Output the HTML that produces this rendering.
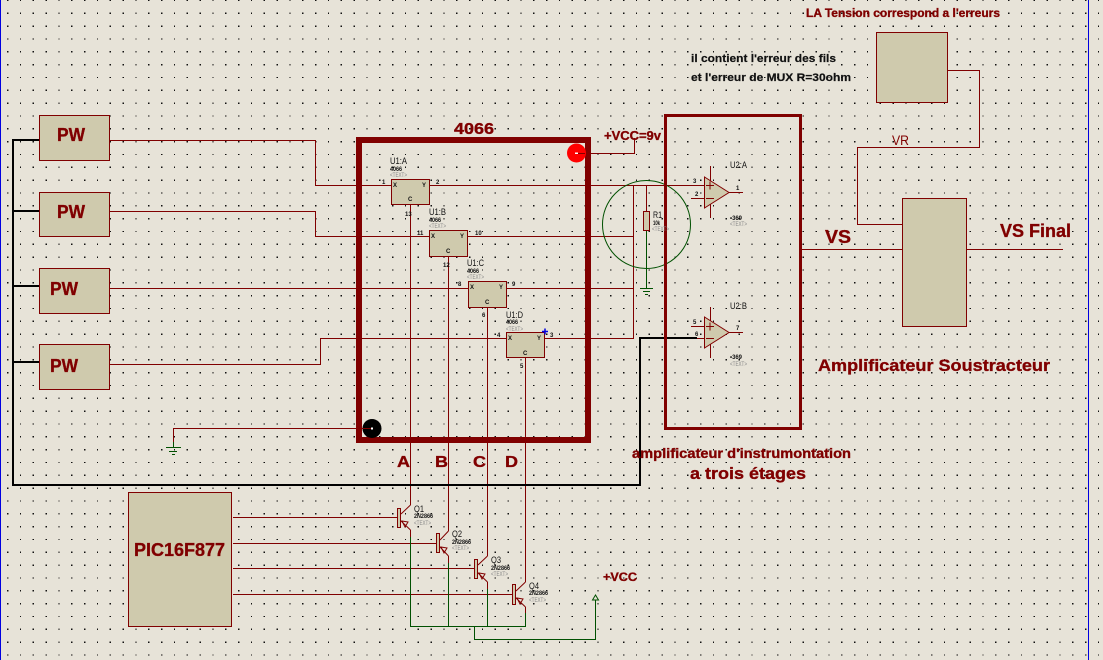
<!DOCTYPE html>
<html><head><meta charset="utf-8"><style>
html,body{margin:0;padding:0;background:#e7e3d8;width:1103px;height:660px;overflow:hidden}
svg{display:block}
text{font-family:"Liberation Sans",sans-serif}
.b{font-weight:bold;fill:#800000;stroke:#800000;stroke-width:.35}
.k{font-weight:bold;fill:#111;stroke:#111;stroke-width:.2}
.s{font-size:9.5px;fill:#111}
.t{font-size:6px;font-weight:bold;fill:#111}
.g{font-size:6px;fill:#888}
.p{font-size:6px;font-weight:bold;fill:#111}
</style></head><body>
<svg width="1103" height="660" viewBox="0 0 1103 660" xmlns="http://www.w3.org/2000/svg">
<rect width="1103" height="660" fill="#e7e3d8"/>
<path shape-rendering="crispEdges" stroke="#111" stroke-width="1.3" stroke-dasharray="1.3 11.533" fill="none" d="M7 .5H1103M7 13.3H1103M7 26.2H1103M7 39H1103M7 51.8H1103M7 64.7H1103M7 77.5H1103M7 90.3H1103M7 103.2H1103M7 116H1103M7 128.8H1103M7 141.7H1103M7 154.5H1103M7 167.3H1103M7 180.2H1103M7 193H1103M7 205.8H1103M7 218.7H1103M7 231.5H1103M7 244.3H1103M7 257.2H1103M7 270H1103M7 282.8H1103M7 295.7H1103M7 308.5H1103M7 321.3H1103M7 334.2H1103M7 347H1103M7 359.8H1103M7 372.7H1103M7 385.5H1103M7 398.3H1103M7 411.2H1103M7 424H1103M7 436.8H1103M7 449.7H1103M7 462.5H1103M7 475.3H1103M7 488.2H1103M7 501H1103M7 513.8H1103M7 526.7H1103M7 539.5H1103M7 552.3H1103M7 565.2H1103M7 578H1103M7 590.8H1103M7 603.7H1103M7 616.5H1103M7 629.3H1103M7 642.2H1103M7 655H1103"/>
<g shape-rendering="crispEdges">
<rect x="0" y="0" width="1" height="660" fill="#0000e0"/>
<rect x="1088" y="0" width="1" height="660" fill="#0000e0"/>
</g>

<!-- red wires -->
<g fill="none" stroke="#800000" stroke-width="1" shape-rendering="crispEdges">
<path d="M110 140.5H315.5V185.5H704"/>
<path d="M110 211.5H315.5V236.5H634"/>
<path d="M110 288.5H634"/>
<path d="M110 364.5H320.5V338.5H634"/>
<path d="M633.5 185V339"/>
<path d="M576 153.5H634.5V138"/>
<path d="M646.5 185V211"/>
<path d="M173.5 442V428.5H372"/>
<path d="M410.5 204V505M448.5 256V531M487.5 307V556M525.5 358V582"/>
<path d="M410.5 530V537M448.5 556V563M487.5 582V589M525.5 607V613"/>
<path d="M233 517.5H397M233 543.5H436M233 568.5H474M233 594.5H512"/>
<path d="M691 198.5H704M729 192.5H743M710.5 166V218"/>
<path d="M691 326.5H704M691 338.5H704M729 332.5H743M710.5 307V358"/>
<path d="M802 249.5H902M966 249.5H1063"/>
<path d="M948 70.5H979.5V147.5H857.5V224.5H902"/>
</g>
<g fill="none" stroke="#800000" stroke-width="1">
<path d="M401 514L410.5 505M401 521L410.5 530"/>
<path d="M440 540L448.5 531M440 547L448.5 556"/>
<path d="M478 565L487.5 556M478 573L487.5 582"/>
<path d="M516 591L525.5 582M516 598L525.5 607"/>
<path d="M402 521l6 1-3 5zM441 547l6 1-3 5zM479 573l6 1-3 5zM517 598l6 1-3 5z"/>
</g>
<!-- green wires -->
<g fill="none" stroke="#005000" stroke-width="1" shape-rendering="crispEdges">
<path d="M410.5 537V626.5H525.5V613"/>
<path d="M448.5 563V626M487.5 589V626"/>
<path d="M474.5 626V639.5H595.5V600"/>
<path d="M646.5 231V288M640 288.5H653M643 291.5H650M645 294.5H648"/>
<path d="M173.5 442V447M166 447.5H181M169 451.5H177M172 454.5H175"/>
</g>
<path d="M595.5 595L592.5 600H598.5Z" fill="none" stroke="#005000"/>
<circle cx="646.5" cy="224.5" r="44" fill="none" stroke="#005000" stroke-width="1"/>

<!-- black wires -->
<path d="M39 140H13V485H640V338H697M13 211H39M13 286H39M13 362H39" fill="none" stroke="#000" stroke-width="2" shape-rendering="crispEdges"/>

<!-- frames -->
<g fill="none" stroke="#800000" shape-rendering="crispEdges">
<rect x="359" y="140" width="229" height="300" stroke-width="6"/>
<rect x="665.5" y="115.5" width="135" height="313" stroke-width="3"/>
</g>

<!-- boxes -->
<g fill="#cfcaad" stroke="#800000" stroke-width="1" shape-rendering="crispEdges">
<rect x="39.5" y="115.5" width="70" height="45"/>
<rect x="39.5" y="192.5" width="70" height="44"/>
<rect x="39.5" y="268.5" width="70" height="45"/>
<rect x="39.5" y="344.5" width="70" height="45"/>
<rect x="128.5" y="492.5" width="103" height="134"/>
<rect x="876.5" y="32.5" width="71" height="70"/>
<rect x="902.5" y="198.5" width="64" height="128"/>
<rect x="391.5" y="179.5" width="38" height="25"/>
<rect x="429.5" y="230.5" width="38" height="26"/>
<rect x="468.5" y="281.5" width="38" height="26"/>
<rect x="506.5" y="332.5" width="38" height="25"/>
<rect x="643.5" y="211.5" width="6" height="19"/>
<rect x="397.5" y="508.5" width="3" height="19"/>
<rect x="436.5" y="533.5" width="3" height="19"/>
<rect x="474.5" y="559.5" width="3" height="19"/>
<rect x="512.5" y="584.5" width="3" height="20"/>
</g>
<g fill="#cfcaad" stroke="#800000" stroke-width="1">
<path d="M704.5 177L729 192.5 704.5 208Z"/>
<path d="M704.5 317L729 332.5 704.5 348Z"/>
</g>
<path d="M706 185.5h8M710 181.5v8M706 198.5h8M706 326.5h8M710 322.5v8M706 338.5h8" stroke="#800000" stroke-width="1" fill="none" shape-rendering="crispEdges"/>

<!-- terminals -->
<circle cx="576.5" cy="153" r="9.5" fill="#ff0000"/>
<path d="M576 153.5H585" stroke="#800000"/>
<rect x="575" y="152.5" width="3" height="1.5" fill="#fff"/>
<circle cx="372" cy="428.5" r="9.5" fill="#000"/>
<path d="M362 428.5H372" stroke="#800000"/>
<rect x="371" y="427.5" width="2" height="2" fill="#fff"/>
<path d="M545 328.5v6M542 331.5h6" stroke="#0000e0" stroke-width="1.5"/>

<!-- labels -->
<text class="b" x="454" y="134" font-size="16" textLength="40" lengthAdjust="spacingAndGlyphs">4066</text>
<text class="b" x="57" y="141" font-size="18" textLength="28" lengthAdjust="spacingAndGlyphs">PW</text>
<text class="b" x="57" y="218" font-size="18" textLength="28" lengthAdjust="spacingAndGlyphs">PW</text>
<text class="b" x="50" y="295" font-size="18" textLength="28" lengthAdjust="spacingAndGlyphs">PW</text>
<text class="b" x="50" y="372" font-size="18" textLength="28" lengthAdjust="spacingAndGlyphs">PW</text>
<text class="b" x="134" y="556" font-size="18" textLength="91" lengthAdjust="spacingAndGlyphs">PIC16F877</text>
<text class="b" x="604" y="140" font-size="13" textLength="57" lengthAdjust="spacingAndGlyphs">+VCC=9v</text>
<text class="k" x="691" y="62" font-size="11" textLength="145" lengthAdjust="spacingAndGlyphs">il contient l'erreur des fils</text>
<text class="k" x="691" y="81" font-size="11" textLength="160" lengthAdjust="spacingAndGlyphs">et l'erreur de MUX R=30ohm</text>
<text class="b" x="806" y="17" font-size="12" textLength="194" lengthAdjust="spacingAndGlyphs">LA Tension correspond a l'erreurs</text>
<text x="892" y="145" font-size="14" fill="#800000" textLength="17" lengthAdjust="spacingAndGlyphs">VR</text>
<text class="b" x="825" y="243" font-size="18" textLength="26" lengthAdjust="spacingAndGlyphs">VS</text>
<text class="b" x="1000" y="237" font-size="18" textLength="71" lengthAdjust="spacingAndGlyphs">VS Final</text>
<text class="b" x="818" y="371" font-size="17" textLength="232" lengthAdjust="spacingAndGlyphs">Amplificateur Soustracteur</text>
<text class="b" x="632" y="458" font-size="14" textLength="219" lengthAdjust="spacingAndGlyphs">amplificateur d'instrumontation</text>
<text class="b" x="690" y="479" font-size="17" textLength="116" lengthAdjust="spacingAndGlyphs">a trois étages</text>
<text class="b" x="397" y="467" font-size="16" textLength="13" lengthAdjust="spacingAndGlyphs">A</text>
<text class="b" x="435" y="467" font-size="16" textLength="13" lengthAdjust="spacingAndGlyphs">B</text>
<text class="b" x="473" y="467" font-size="16" textLength="13" lengthAdjust="spacingAndGlyphs">C</text>
<text class="b" x="505" y="467" font-size="16" textLength="13" lengthAdjust="spacingAndGlyphs">D</text>
<text class="b" x="603" y="581" font-size="12" textLength="34" lengthAdjust="spacingAndGlyphs">+VCC</text>

<!-- component refs -->
<g>
<text class="s" x="390" y="164" textLength="17" lengthAdjust="spacingAndGlyphs">U1:A</text>
<text class="t" x="390" y="171" textLength="12" lengthAdjust="spacingAndGlyphs">4066</text>
<text class="g" x="390" y="177" textLength="17" lengthAdjust="spacingAndGlyphs">&lt;TEXT&gt;</text>
<text class="s" x="429" y="215" textLength="17" lengthAdjust="spacingAndGlyphs">U1:B</text>
<text class="t" x="429" y="222" textLength="12" lengthAdjust="spacingAndGlyphs">4066</text>
<text class="g" x="429" y="228" textLength="17" lengthAdjust="spacingAndGlyphs">&lt;TEXT&gt;</text>
<text class="s" x="467" y="266" textLength="17" lengthAdjust="spacingAndGlyphs">U1:C</text>
<text class="t" x="467" y="273" textLength="12" lengthAdjust="spacingAndGlyphs">4066</text>
<text class="g" x="467" y="279" textLength="17" lengthAdjust="spacingAndGlyphs">&lt;TEXT&gt;</text>
<text class="s" x="506" y="318" textLength="17" lengthAdjust="spacingAndGlyphs">U1:D</text>
<text class="t" x="506" y="324" textLength="12" lengthAdjust="spacingAndGlyphs">4066</text>
<text class="g" x="506" y="331" textLength="17" lengthAdjust="spacingAndGlyphs">&lt;TEXT&gt;</text>
<text class="s" x="730" y="168" textLength="17" lengthAdjust="spacingAndGlyphs">U2:A</text>
<text class="t" x="730" y="220" textLength="12" lengthAdjust="spacingAndGlyphs">•369</text>
<text class="g" x="730" y="226" textLength="17" lengthAdjust="spacingAndGlyphs">&lt;TEXT&gt;</text>
<text class="s" x="730" y="309" textLength="17" lengthAdjust="spacingAndGlyphs">U2:B</text>
<text class="t" x="730" y="359" textLength="12" lengthAdjust="spacingAndGlyphs">•369</text>
<text class="g" x="730" y="366" textLength="17" lengthAdjust="spacingAndGlyphs">&lt;TEXT&gt;</text>
<text class="s" x="653" y="218" textLength="9" lengthAdjust="spacingAndGlyphs">R1</text>
<text class="t" x="653" y="225" textLength="7" lengthAdjust="spacingAndGlyphs">10k</text>
<text class="g" x="652" y="231" textLength="17" lengthAdjust="spacingAndGlyphs">&lt;TEXT&gt;</text>
<text class="s" x="414" y="512" textLength="10" lengthAdjust="spacingAndGlyphs">Q1</text>
<text class="t" x="414" y="518" textLength="19" lengthAdjust="spacingAndGlyphs">2N2866</text>
<text class="g" x="414" y="525" textLength="17" lengthAdjust="spacingAndGlyphs">&lt;TEXT&gt;</text>
<text class="s" x="452" y="537" textLength="10" lengthAdjust="spacingAndGlyphs">Q2</text>
<text class="t" x="452" y="544" textLength="19" lengthAdjust="spacingAndGlyphs">2N2866</text>
<text class="g" x="452" y="550" textLength="17" lengthAdjust="spacingAndGlyphs">&lt;TEXT&gt;</text>
<text class="s" x="491" y="563" textLength="10" lengthAdjust="spacingAndGlyphs">Q3</text>
<text class="t" x="491" y="570" textLength="19" lengthAdjust="spacingAndGlyphs">2N2866</text>
<text class="g" x="491" y="576" textLength="17" lengthAdjust="spacingAndGlyphs">&lt;TEXT&gt;</text>
<text class="s" x="529" y="589" textLength="10" lengthAdjust="spacingAndGlyphs">Q4</text>
<text class="t" x="529" y="595" textLength="19" lengthAdjust="spacingAndGlyphs">2N2866</text>
<text class="g" x="529" y="602" textLength="17" lengthAdjust="spacingAndGlyphs">&lt;TEXT&gt;</text>
</g>
<!-- pin labels -->
<g>
<text class="p" x="382" y="184">1</text><text class="p" x="436" y="184">2</text><text class="p" x="405" y="216">13</text>
<text class="p" x="417" y="235">11</text><text class="p" x="475" y="235">10</text><text class="p" x="443" y="267">12</text>
<text class="p" x="458" y="286">8</text><text class="p" x="512" y="286">9</text><text class="p" x="482" y="317">6</text>
<text class="p" x="497" y="337">4</text><text class="p" x="550" y="337">3</text><text class="p" x="520" y="368">5</text>
<text class="p" x="393" y="187">X</text><text class="p" x="422" y="187">Y</text><text class="p" x="408" y="201">C</text>
<text class="p" x="431" y="238">X</text><text class="p" x="460" y="238">Y</text><text class="p" x="446" y="253">C</text>
<text class="p" x="470" y="289">X</text><text class="p" x="499" y="289">Y</text><text class="p" x="485" y="304">C</text>
<text class="p" x="508" y="340">X</text><text class="p" x="537" y="340">Y</text><text class="p" x="523" y="355">C</text>
<text class="p" x="693" y="183">3</text><text class="p" x="695" y="196">2</text><text class="p" x="736" y="190">1</text>
<text class="p" x="693" y="324">5</text><text class="p" x="695" y="336">6</text><text class="p" x="736" y="330">7</text>
</g>
</svg>
</body></html>
